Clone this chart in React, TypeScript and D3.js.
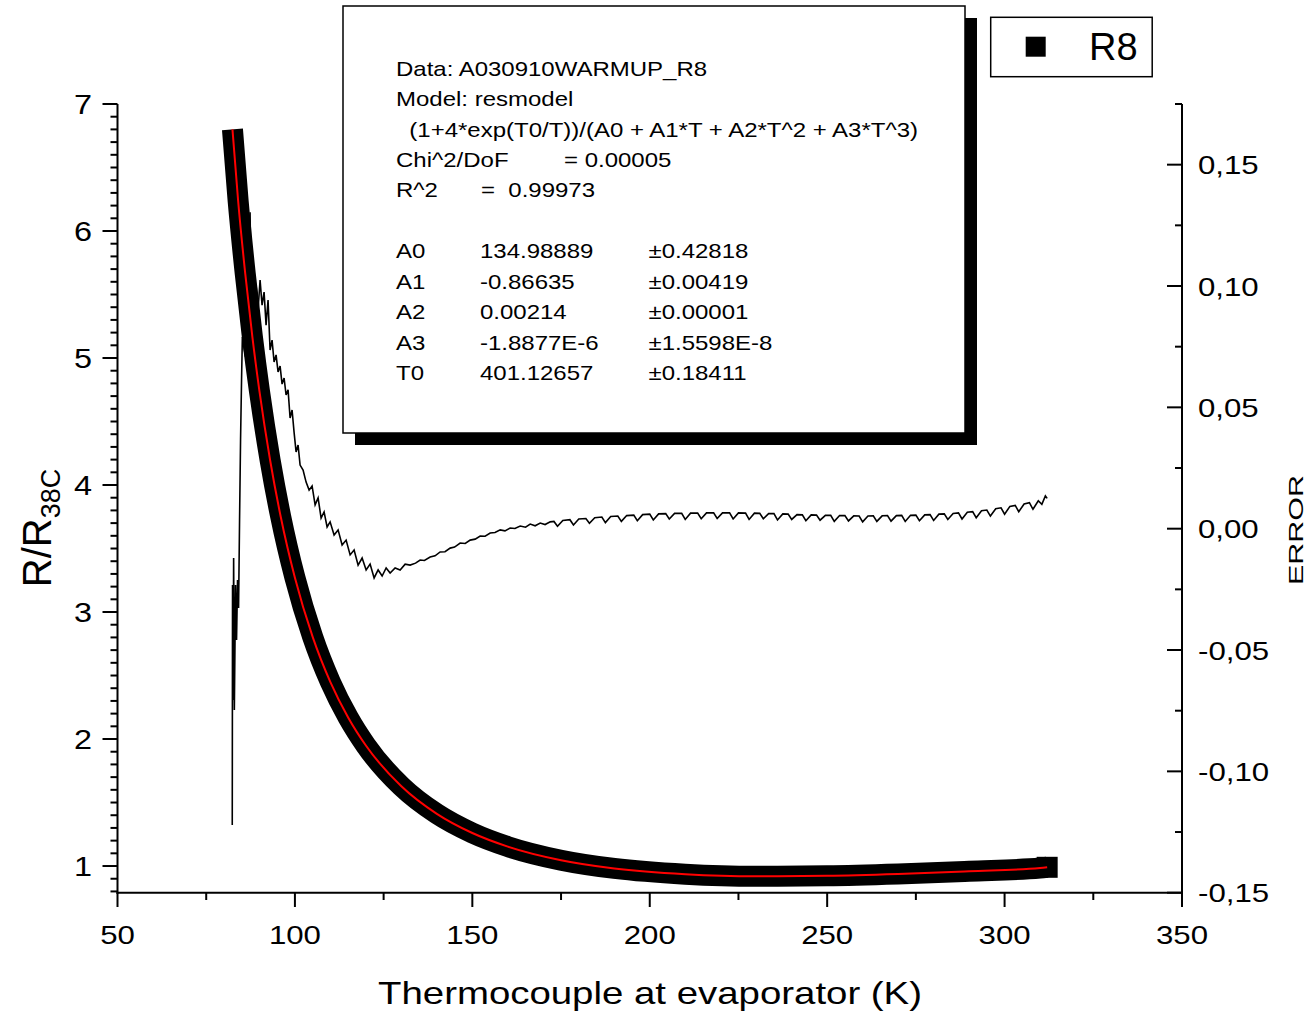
import React from 'react';
import * as d3 from 'd3';

// ---- data ----
const r8T = [82.4, 84, 86, 88, 90, 93, 96, 100, 105, 110, 115, 120, 130, 140, 150, 160, 175, 190, 210, 230, 250, 270, 290, 310, 312];
const r8R = [6.8, 6.236, 5.664, 5.169, 4.74, 4.197, 3.75, 3.27, 2.804, 2.448, 2.17, 1.949, 1.628, 1.411, 1.26, 1.153, 1.046, 0.981, 0.936, 0.92, 0.923, 0.937, 0.959, 0.984, 0.99];

const errT = [82.34, 82.42, 82.57, 82.73, 82.93, 83.27, 83.55, 83.83, 84.12, 84.4, 84.68, 84.96, 85.19, 85.53, 86.09, 86.51, 86.94, 87.36, 87.64, 88.06, 88.49, 89.05, 89.61, 90.18, 90.74, 91.31, 91.87, 92.43, 93.0, 93.56, 94.13, 94.69, 95.25, 95.82, 96.38, 96.95, 97.51, 98.07, 98.64, 99.2, 99.76, 100.33, 100.89, 101.46, 102.3, 103.15, 104.0, 104.84, 105.69, 106.53, 107.38, 108.22, 109.07, 109.92, 111.04, 112.17, 113.3, 114.43, 115.56, 116.68, 117.81, 118.94, 120.07, 121.19, 122.32, 123.45, 124.58, 125.71, 126.83, 128.24, 129.65, 131.06, 132.47, 134, 135.29, 136.5, 138.11, 139.5, 140.93, 142.3, 143.75, 145, 146.57, 148, 149.39, 150.8, 152.21, 153.6, 155.03, 156.4, 157.85, 159.2, 160.67, 162, 163.49, 165, 166.31, 167.7, 169.13, 170.5, 171.95,
  173, 174, 175.5, 177.5, 178.5, 180, 182, 183, 184.5, 186.5, 187.5, 189, 191, 192, 193.5, 195.5, 196.5, 198, 200, 201, 202.5, 204.5, 205.5, 207, 209, 210, 211.5, 213.5, 214.5, 216, 218, 219, 220.5, 222.5, 223.5, 225, 227, 228, 229.5, 231, 232, 233.5, 235, 236, 237.5, 239, 240, 241.5, 243, 244, 245.5, 247, 248, 249.5, 251, 252, 253.5, 255, 256, 257.5, 259, 260, 261.5, 263, 264, 265.5, 267, 268, 269.5, 271, 272, 273.5, 275, 276, 277.5, 279, 280, 281.5, 283, 284, 285.5, 287, 288, 289.5, 291, 292, 293.5, 295, 296, 297.5, 299, 300, 301.5, 303, 304, 305.5, 307, 308, 309.5, 310.5, 311.5, 312];
const errV = [-0.1221, -0.0232, -0.0706, -0.0121, -0.0747, -0.0232, -0.0459, -0.0211, -0.0327, 0.0036, 0.0366, 0.0613, 0.079, 0.0757, 0.0708, 0.0786, 0.0942, 0.1304, 0.0983, 0.1066, 0.0942, 0.1004, 0.0901, 0.1025, 0.0921, 0.0975, 0.0839, 0.0942, 0.0736, 0.0777, 0.0687, 0.0716, 0.0646, 0.067, 0.0596, 0.0621, 0.0551, 0.0572, 0.0456, 0.0489, 0.0398, 0.0316, 0.0345, 0.0262, 0.0242, 0.0192, 0.0159, 0.0176, 0.0098, 0.0127, 0.0044, 0.0069, 0.0007, 0.0028, -0.0026, -0.0005, -0.0067, -0.0047, -0.0108, -0.0088, -0.015, -0.0121, -0.017, -0.0146, -0.0203, -0.017, -0.0195, -0.0162, -0.0183, -0.0162, -0.017, -0.0146, -0.015, -0.0142, -0.0129, -0.0131, -0.0117, -0.0112, -0.0096, -0.0095, -0.008, -0.0076, -0.0059, -0.0061, -0.0047, -0.0043, -0.003, -0.0031, -0.0018, -0.0016, -0.0005, -0.0009, 0.0003, 0.0001, 0.0011, 0.0006, 0.0019, 0.0012, 0.0023, 0.0017, 0.0028,
  0.003, 0.001, 0.0034, 0.0037, 0.0015, 0.004, 0.0042, 0.0022, 0.0045, 0.0048, 0.0025, 0.005, 0.0052, 0.003, 0.0054, 0.0056, 0.0033, 0.0058, 0.006, 0.0036, 0.0061, 0.0062, 0.004, 0.0063, 0.0063, 0.0038, 0.0064, 0.0064, 0.0041, 0.0065, 0.0065, 0.0042, 0.0065, 0.0065, 0.004, 0.0065, 0.0064, 0.0038, 0.0064, 0.0063, 0.0041, 0.0062, 0.0062, 0.0036, 0.0061, 0.006, 0.0038, 0.0058, 0.0057, 0.0033, 0.0057, 0.0056, 0.0035, 0.0055, 0.0055, 0.003, 0.0054, 0.0054, 0.0032, 0.0053, 0.0052, 0.0028, 0.0052, 0.0053, 0.003, 0.0053, 0.0054, 0.0031, 0.0054, 0.0055, 0.003, 0.0055, 0.0056, 0.0033, 0.0057, 0.0058, 0.0034, 0.006, 0.0061, 0.0038, 0.0063, 0.0065, 0.004, 0.0068, 0.007, 0.0045, 0.0074, 0.0077, 0.0052, 0.0082, 0.0086, 0.006, 0.0092, 0.0096, 0.007, 0.0102, 0.0107, 0.008, 0.0115, 0.01, 0.0135, 0.0125];

const xTicks = [50, 100, 150, 200, 250, 300, 350];
const xMinor = [75, 125, 175, 225, 275, 325];
const yLTicks = [1, 2, 3, 4, 5, 6, 7];
const yRTicks = [-0.15, -0.1, -0.05, 0, 0.05, 0.1, 0.15];
const yRLabels = ['-0,15', '-0,10', '-0,05', '0,00', '0,05', '0,10', '0,15'];

const boxLines = [
  'Data: A030910WARMUP_R8',
  'Model: resmodel',
  '  (1+4*exp(T0/T))/(A0 + A1*T + A2*T^2 + A3*T^3)',
];
const statNames = ['Chi^2/DoF', 'R^2'];
const statVals = ['= 0.00005', '=  0.99973'];
const parNames = ['A0', 'A1', 'A2', 'A3', 'T0'];
const parVals = ['134.98889', '-0.86635', '0.00214', '-1.8877E-6', '401.12657'];
const parErrs = ['±0.42818', '±0.00419', '±0.00001', '±1.5598E-8', '±0.18411'];
const legendLabel = 'R8';

const FONT = '"Liberation Sans", Arial, sans-serif';
const SX = 1.2;

function St({ x, y, size, anchor = 'start', children }: any) {
  return (
    <text
      transform={`translate(${x},${y}) scale(${SX},1)`}
      fontSize={size}
      fontFamily={FONT}
      textAnchor={anchor}
      fill="#000"
      style={{ whiteSpace: 'pre' }}
    >
      {children}
    </text>
  );
}

export default function App() {
  const x = d3.scaleLinear().domain([50, 350]).range([117.5, 1182]);
  const yL = d3.scaleLinear().domain([0.79, 7]).range([892.7, 104]);
  const yR = d3.scaleLinear().domain([-0.15, 0.175]).range([892.7, 104]);

  const r8 = r8T.map((t, i) => [t, r8R[i]] as [number, number]);
  const err = errT.map((t, i) => [t, errV[i]] as [number, number]);
  const lineL = d3.line<[number, number]>().x(d => x(d[0])).y(d => yL(d[1])).curve(d3.curveMonotoneX);
  const lineE = d3.line<[number, number]>().x(d => x(d[0])).y(d => yR(d[1]));

  const yLMinor = d3.range(8, 70).map(v => v / 10).filter(v => Math.abs(v - Math.round(v)) > 1e-6);
  const yRMinor = [-0.125, -0.075, -0.025, 0.025, 0.075, 0.125, 0.175];
  const last = r8[r8.length - 1];
  const bandW = 21;

  return (
    <svg width={1310} height={1012} style={{ position: 'absolute', left: 0, top: 0, background: '#fff' }}>
      <rect x={0} y={0} width={1310} height={1012} fill="#fff" />
      {/* data band */}
      <path d={lineL(r8) || ''} fill="none" stroke="#000" strokeWidth={bandW} strokeLinecap="butt" />
      <rect x={x(last[0]) - bandW / 2} y={yL(last[1]) - bandW / 2} width={bandW} height={bandW} fill="#000" />
      {/* error line */}
      <path d={lineE(err) || ''} fill="none" stroke="#000" strokeWidth={1.6} strokeLinejoin="miter" />
      {/* fit */}
      <path d={lineL(r8) || ''} fill="none" stroke="#ff0000" strokeWidth={2} />

      {/* axes */}
      <g stroke="#000" strokeWidth={2}>
        <line x1={117.5} x2={117.5} y1={104} y2={893.7} />
        <line x1={116.5} x2={1183} y1={892.7} y2={892.7} />
        <line x1={1182} x2={1182} y1={104} y2={893.7} />
        {xTicks.map(t => <line key={'xt' + t} x1={x(t)} x2={x(t)} y1={892.7} y2={907} />)}
        {xMinor.map(t => <line key={'xm' + t} x1={x(t)} x2={x(t)} y1={892.7} y2={900} />)}
        {yLTicks.map(t => <line key={'yl' + t} x1={102.5} x2={117.5} y1={yL(t)} y2={yL(t)} />)}
        {yLMinor.map(t => <line key={'ylm' + t} x1={110.5} x2={117.5} y1={yL(t)} y2={yL(t)} />)}
        {yRTicks.map(t => <line key={'yr' + t} x1={1167} x2={1182} y1={yR(t)} y2={yR(t)} />)}
        {yRMinor.map(t => <line key={'yrm' + t} x1={1175} x2={1182} y1={yR(t)} y2={yR(t)} />)}
      </g>
      {xTicks.map(t => <St key={'xl' + t} x={x(t)} y={944} size={26} anchor="middle">{String(t)}</St>)}
      {yLTicks.map(t => <St key={'yll' + t} x={92} y={yL(t) + 10} size={27} anchor="end">{String(t)}</St>)}
      {yRTicks.map((t, i) => <St key={'yrl' + t} x={1198} y={yR(t) + 9.5} size={26}>{yRLabels[i]}</St>)}

      <text transform={`translate(650,1004) scale(${SX},1)`} fontSize={32} fontFamily={FONT} textAnchor="middle">Thermocouple at evaporator (K)</text>
      <text transform={`translate(51,528) rotate(-90)`} fontSize={40} fontFamily={FONT} textAnchor="middle">
        R/R<tspan fontSize={27} dy={9}>38C</tspan>
      </text>
      <text transform={`translate(1303,530) rotate(-90) scale(1.45,1)`} fontSize={21} fontFamily={FONT} textAnchor="middle">ERROR</text>

      {/* info box */}
      <rect x={355} y={18} width={622} height={427} fill="#000" />
      <rect x={343} y={6} width={622} height={427} fill="#fff" stroke="#000" strokeWidth={1.5} />
      {boxLines.map((s, i) => <St key={'bl' + i} x={396} y={76 + i * 30.4} size={20}>{s}</St>)}
      {statNames.map((s, i) => <St key={'sn' + i} x={396} y={167 + i * 30.4} size={20}>{s}</St>)}
      <St x={564} y={167} size={20}>{statVals[0]}</St>
      <St x={481} y={197.4} size={20}>{statVals[1]}</St>
      {parNames.map((s, i) => <St key={'pn' + i} x={396} y={258 + i * 30.5} size={20}>{s}</St>)}
      {parVals.map((s, i) => <St key={'pv' + i} x={480} y={258 + i * 30.5} size={20}>{s}</St>)}
      {parErrs.map((s, i) => <St key={'pe' + i} x={648.5} y={258 + i * 30.5} size={20}>{s}</St>)}

      {/* legend */}
      <rect x={990.7} y={17.3} width={161.5} height={59.4} fill="#fff" stroke="#000" strokeWidth={1.5} />
      <rect x={1025.7} y={36.7} width={20} height={20} fill="#000" />
      <text x={1089} y={60} fontSize={38} fontFamily={FONT}>{legendLabel}</text>
    </svg>
  );
}
